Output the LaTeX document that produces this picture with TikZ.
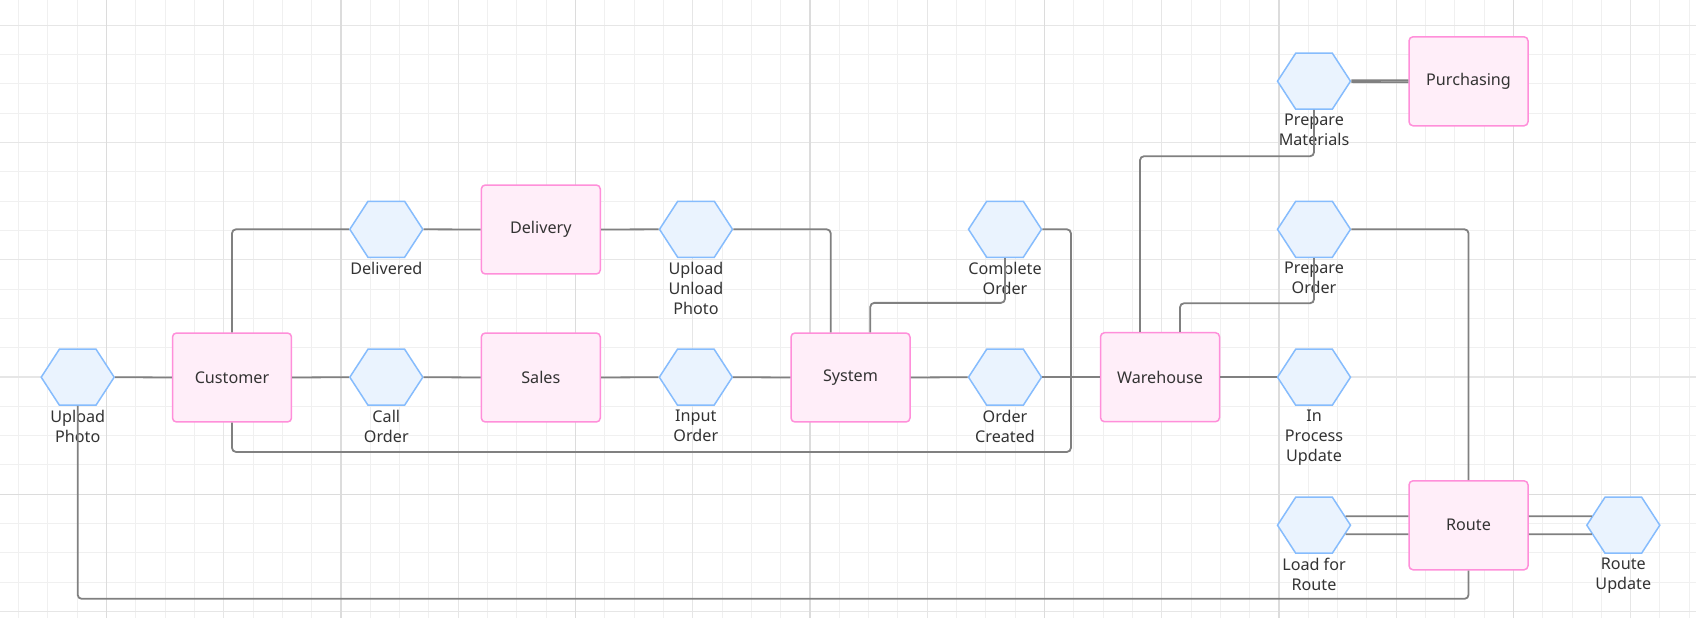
\documentclass[tikz,border=0pt]{standalone}
\usepackage{fontspec}
\setmainfont{Noto Sans}
\usetikzlibrary{shapes.symbols,calc}
\definecolor{gridminor}{HTML}{F0F0F0}
\definecolor{gridmid}{HTML}{E6E6E6}
\definecolor{gridmajor}{HTML}{DCDCDC}
\definecolor{rolefill}{HTML}{FFEEF9}
\definecolor{roleline}{HTML}{FF8FDA}
\definecolor{eventfill}{HTML}{EAF3FE}
\definecolor{eventline}{HTML}{86BCFD}
\definecolor{linkgrey}{HTML}{808080}
\definecolor{textgrey}{HTML}{333333}
\tikzset{
  role/.style={draw=roleline, fill=rolefill, line width=0.03cm, rounded corners=0.08cm,
    minimum width=2.38cm, minimum height=1.78cm, inner sep=0pt, text=textgrey,
    font=\fontsize{9.2pt}{11.4pt}\selectfont},
  event/.style={signal, signal to=east and west, signal pointer angle=114,
    draw=eventline, fill=eventfill, line width=0.03cm, minimum width=1.46cm,
    minimum height=1.12cm, inner sep=0pt},
  evtext/.style={align=center, inner sep=0pt, yshift=-0.07cm, text=textgrey,
    font=\fontsize{9.2pt}{11.4pt}\selectfont},
  link/.style={draw=linkgrey, line width=0.036cm, rounded corners=0.08cm},
}
\begin{document}
\begin{tikzpicture}[x=0.02cm, y=-0.02cm]
\useasboundingbox (0,0) rectangle (1696,618);
\fill[white] (0,0) rectangle (1696,618);
%
\foreach \i in {0,...,57} \draw[gridminor, line width=0.02cm] ({18.6+\i*29.31},0) -- ++(0,618);
\foreach \i in {0,...,20} \draw[gridminor, line width=0.02cm] (0,{25.3+\i*29.31}) -- ++(1696,0);
\foreach \i in {1,...,14} \draw[gridmid, line width=0.024cm] ({-10.74+\i*117.24},0) -- ++(0,618);
\foreach \i in {0,...,5} \draw[gridmid, line width=0.024cm] (0,{25.3+\i*117.24}) -- ++(1696,0);
\foreach \i in {0,...,6} \draw[gridmajor, line width=0.03cm] ({106.5+\i*234.48},0) -- ++(0,618);
\draw[gridmajor, line width=0.03cm] (0,494.3) -- ++(1696,0);
%
\node[role] (cust) at (232, 377.5) {Customer};
\node[role] (sales) at (540.8, 377.5) {Sales};
\node[role] (sys) at (850.5, 377.5) {System};
\node[role] (wh) at (1160, 377.2) {Warehouse};
\node[role] (deliv) at (540.8, 229.5) {Delivery};
\node[role] (purch) at (1468.5, 81.3) {Purchasing};
\node[role] (route) at (1468.5, 525.3) {Route};
%
\node[event, label={[evtext]below:{Upload\\Photo}}] (upload) at (77.7, 377.2) {};
\node[event, label={[evtext]below:{Call\\Order}}] (callord) at (386.3, 377.2) {};
\node[event, label={[evtext]below:{Input\\Order}}] (inputord) at (695.8, 377.2) {};
\node[event, label={[evtext]below:{Order\\Created}}] (ordcreated) at (1005, 377.2) {};
\node[event, label={[evtext]below:{Delivered}}] (delivered) at (386.3, 229.3) {};
\node[event, label={[evtext]below:{Upload\\Unload\\Photo}}] (unload) at (696, 229.3) {};
\node[event, label={[evtext]below:{Complete\\Order}}] (complete) at (1005, 229.3) {};
\node[event, label={[evtext]below:{Prepare\\Materials}}] (prepmat) at (1314, 81.2) {};
\node[event, label={[evtext]below:{Prepare\\Order}}] (prepord) at (1314, 229.3) {};
\node[event, label={[evtext]below:{In\\Process\\Update}}] (inproc) at (1314, 377.2) {};
\node[event, label={[evtext]below:{Load for\\Route}}] (loadroute) at (1314, 525.2) {};
\node[event, label={[evtext]below:{Route\\Update}}] (routeupd) at (1623.3, 525.2) {};
%
\draw[link] (upload.east) -- (cust.west);
\draw[link] (cust.east) -- (callord.west);
\draw[link] (callord.east) -- (sales.west);
\draw[link] (sales.east) -- (inputord.west);
\draw[link] (inputord.east) -- (sys.west);
\draw[link] (sys.east) -- (ordcreated.west);
\draw[link] (ordcreated.east) -- (wh.west);
\draw[link] (wh.east) -- (inproc.west);
%
\draw[link] (cust.north) |- (delivered.west);
\draw[link] (delivered.east) -- (deliv.west);
\draw[link] (deliv.east) -- (unload.west);
\draw[link] (unload.east) -| ($(sys.north)+(-19.8,0)$);
\draw[link] ($(sys.north)+(19.8,0)$) -- ++(0,-29.4) -| (complete.south);
\draw[link] (complete.east) -- ++(28.5,0) |- ($(cust.south)+(0,29.2)$) -- (cust.south);
%
\draw[link] ($(wh.north)+(-20,0)$) |- ($(prepmat.south)+(0,46.3)$) -- (prepmat.south);
\draw[link] ($(wh.north)+(20,0)$) -- ++(0,-28.7) -| (prepord.south);
\draw[link] (prepord.east) -| (route.north);
\draw[link] ($(prepmat.east)+(0,-0.9)$) -- ($(purch.west)+(0,-0.9)$);
\draw[link] ($(prepmat.east)+(0,0.9)$) -- ($(purch.west)+(0,0.9)$);
%
\draw[link] ($(route.west)+(0,-9)$) -- ($(loadroute.east)+(-5.9,-9)$);
\draw[link] ($(loadroute.east)+(-5.9,9)$) -- ($(route.west)+(0,9)$);
\draw[link] ($(route.east)+(0,-9)$) -- ($(routeupd.west)+(5.9,-9)$);
\draw[link] ($(routeupd.west)+(5.9,9)$) -- ($(route.east)+(0,9)$);
\draw[link] (route.south) -- ++(0,28.3) -| (upload.south);
\end{tikzpicture}
\end{document}
